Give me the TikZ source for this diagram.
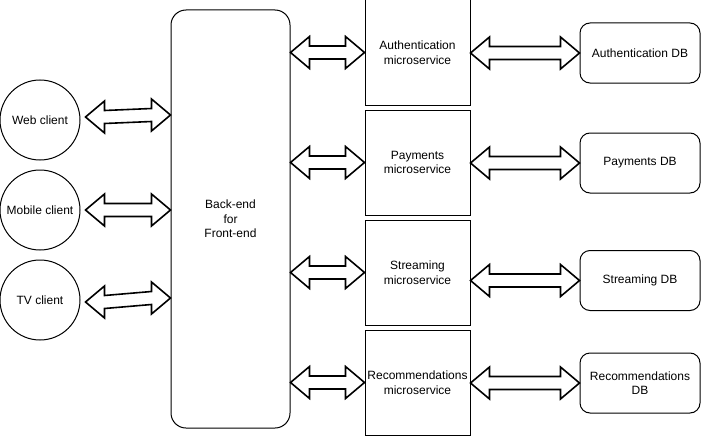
\documentclass[tikz,border=0pt]{standalone}
\usepackage{fontspec}
\setmainfont{Liberation Sans}
\usetikzlibrary{calc}
\tikzset{
  box/.style={draw, line width=1pt, inner sep=0pt, align=center, font=\fontsize{12}{14.5}\selectfont},
  client/.style={box, circle, minimum size=80pt},
  msbox/.style={box, rectangle, minimum width=105pt, minimum height=105pt},
  dbbox/.style={box, rectangle, rounded corners=10pt, minimum width=120pt, minimum height=60pt},
  bffbox/.style={box, rectangle, rounded corners=15pt, minimum width=119pt, minimum height=418pt},
  barrowstyle/.style={draw, line width=1.6pt, fill=white, line join=miter}
}
\newcommand{\barrow}[2]{%
  \path #1 coordinate (ba1) #2 coordinate (ba2);
  \draw[barrowstyle] let \p1=(ba1), \p2=(ba2) in
    (\x1,\y1) -- (\x1+19pt,\y1+16pt) -- (\x1+19pt,\y1+6.5pt) -- (\x2-19pt,\y2+6.5pt)
    -- (\x2-19pt,\y2+16pt) -- (\x2,\y2) -- (\x2-19pt,\y2-16pt) -- (\x2-19pt,\y2-6.5pt)
    -- (\x1+19pt,\y1-6.5pt) -- (\x1+19pt,\y1-16pt) -- cycle;}
\begin{document}
\begin{tikzpicture}[x=1pt,y=-1pt]
\useasboundingbox[fill=white] (0,0) rectangle (701,436);
\node[client] (web) at (40,120) {Web client};
\node[client] (mobile) at (40,210) {Mobile client};
\node[client] (tv) at (40,300) {TV client};
\node[bffbox] (bff) at (230.5,219) {Back-end\\for\\Front-end};
\node[msbox] (ms1) at (417.5,52.5) {Authentication\\microservice};
\node[msbox] (ms2) at (417.5,162.5) {Payments\\microservice};
\node[msbox] (ms3) at (417.5,272.5) {Streaming\\microservice};
\node[msbox] (ms4) at (417.5,382.5) {Recommendations\\microservice};
\node[dbbox] (db1) at (640,53) {Authentication DB};
\node[dbbox] (db2) at (640,163) {Payments DB};
\node[dbbox] (db3) at (640,280.5) {Streaming DB};
\node[dbbox] (db4) at (640,383) {Recommendations\\DB};
% clients <-> BFF
\barrow{($(web.east)+(5,-3)$)}{($(bff.west|-web.east)+(0,-5)$)}
\barrow{($(mobile.east)+(5,0)$)}{(bff.west|-mobile.east)}
\barrow{($(tv.east)+(5,2)$)}{($(bff.west|-tv.east)+(0,-2)$)}
% BFF <-> microservices
\barrow{(bff.east|-ms1.west)}{(ms1.west)}
\barrow{(bff.east|-ms2.west)}{(ms2.west)}
\barrow{(bff.east|-ms3.west)}{(ms3.west)}
\barrow{(bff.east|-ms4.west)}{(ms4.west)}
% microservices <-> DBs
\barrow{(ms1.east|-db1.west)}{(db1.west)}
\barrow{(ms2.east|-db2.west)}{(db2.west)}
\barrow{(ms3.east|-db3.west)}{(db3.west)}
\barrow{(ms4.east|-db4.west)}{(db4.west)}
\end{tikzpicture}
\end{document}
